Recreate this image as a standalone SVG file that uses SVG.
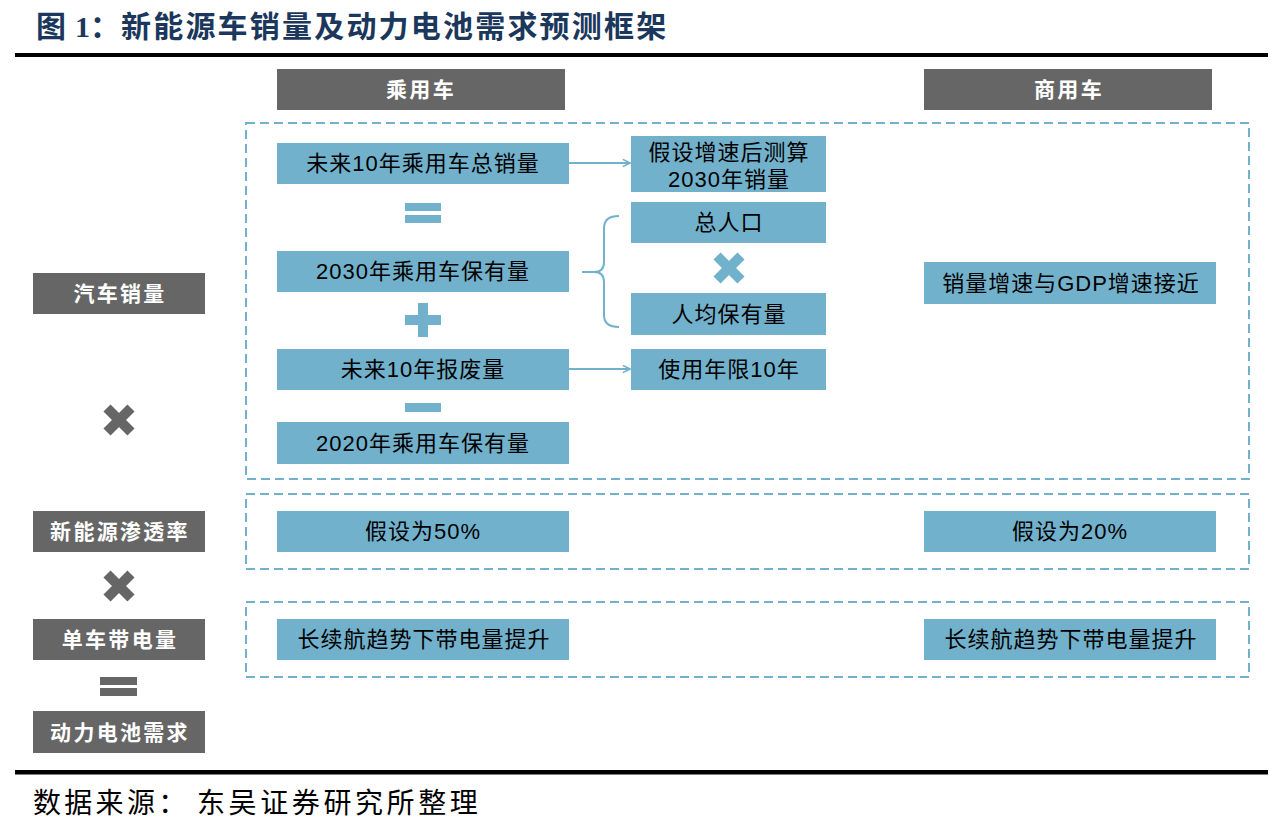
<svg xmlns="http://www.w3.org/2000/svg" width="1280" height="823" viewBox="0 0 1280 823">
  <style>
    .blue { fill: #72B1CB; }
    .gray { fill: #666666; }
    .dash { fill: none; stroke: #72B1CB; stroke-width: 2; stroke-dasharray: 9 5; }
    .bt { font-family: "Liberation Sans", "Noto Sans CJK SC", sans-serif; font-size: 22px; fill: #000000; text-anchor: middle; letter-spacing: 1px; }
    .gt { font-family: "Noto Sans CJK SC", sans-serif; font-size: 21px; font-weight: bold; fill: #FFFFFF; text-anchor: middle; letter-spacing: 2.3px; }
    .conn { fill: none; stroke: #72B1CB; stroke-width: 2; }
    .xg { stroke: #666666; stroke-width: 10; fill: none; }
    .xb { stroke: #72B1CB; stroke-width: 10; fill: none; }
  </style>
  <defs>
    <marker id="arr" viewBox="0 0 10 10" refX="9" refY="5" markerWidth="9" markerHeight="9" markerUnits="userSpaceOnUse" orient="auto">
      <path d="M1,1 L9,5 L1,9" fill="none" stroke="#72B1CB" stroke-width="1.8"/>
    </marker>
  </defs>
  <rect width="1280" height="823" fill="#FFFFFF"/>

  <!-- Title -->
  <g id="title" font-family="Noto Sans CJK SC, sans-serif" font-weight="bold" font-size="30" fill="#1B375C">
    <text x="36" y="37">图</text>
    <text x="75" y="37" font-family="Liberation Serif, serif">1</text>
    <text x="90" y="37">：</text>
    <text x="121" y="37" letter-spacing="2.2">新能源车销量及动力电池需求预测框架</text>
  </g>
  <rect x="15" y="53" width="1253" height="4" fill="#000000"/>
  <rect x="15" y="770" width="1253" height="4.5" fill="#000000"/>

  <!-- dashed containers -->
  <g id="containers">
    <rect class="dash" x="246" y="123" width="1003" height="356"/>
    <rect class="dash" x="246" y="494" width="1003" height="75"/>
    <rect class="dash" x="246" y="602" width="1003" height="75"/>
  </g>

  <!-- headers -->
  <g id="hdr-passenger"><rect class="gray" x="277" y="69" width="288" height="41"/><text class="gt" x="421" y="97">乘用车</text></g>
  <g id="hdr-commercial"><rect class="gray" x="924" y="69" width="288" height="41"/><text class="gt" x="1069" y="97">商用车</text></g>

  <!-- left labels -->
  <g id="lbl-sales"><rect class="gray" x="33" y="273" width="172" height="41"/><text class="gt" x="120" y="301">汽车销量</text></g>
  <g id="lbl-penetration"><rect class="gray" x="33" y="511" width="172" height="41"/><text class="gt" x="120" y="539">新能源渗透率</text></g>
  <g id="lbl-capacity"><rect class="gray" x="33" y="619" width="172" height="41"/><text class="gt" x="120" y="647">单车带电量</text></g>
  <g id="lbl-demand"><rect class="gray" x="33" y="711" width="172" height="42"/><text class="gt" x="120" y="740">动力电池需求</text></g>

  <!-- operators -->
  <g id="operators">
    <path class="xg" d="M107,408 L131,432 M131,408 L107,432"/>
    <path class="xg" d="M107,574 L131,598 M131,574 L107,598"/>
    <rect class="gray" x="100" y="677" width="37" height="8"/>
    <rect class="gray" x="100" y="688" width="37" height="8"/>
    <rect class="blue" x="405" y="203" width="36" height="8"/>
    <rect class="blue" x="405" y="215" width="36" height="8"/>
    <rect class="blue" x="405" y="315" width="36" height="10"/>
    <rect class="blue" x="418" y="303" width="10" height="34"/>
    <rect class="blue" x="405" y="403" width="36" height="9"/>
    <path class="xb" d="M717,256 L741,280 M741,256 L717,280"/>
  </g>

  <!-- passenger car nodes -->
  <g id="n-total-sales"><rect class="blue" x="277" y="143" width="292" height="41"/><text class="bt" x="423" y="171">未来10年乘用车总销量</text></g>
  <g id="n-2030-sales"><rect class="blue" x="631" y="136" width="195" height="56"/><text class="bt" x="729" y="160">假设增速后测算</text><text class="bt" x="729" y="187">2030年销量</text></g>
  <g id="n-2030-stock"><rect class="blue" x="277" y="251" width="292" height="41"/><text class="bt" x="423" y="279">2030年乘用车保有量</text></g>
  <g id="n-population"><rect class="blue" x="631" y="202" width="195" height="41"/><text class="bt" x="729" y="230" letter-spacing="4">总人口</text></g>
  <g id="n-per-capita"><rect class="blue" x="631" y="293" width="195" height="42"/><text class="bt" x="729" y="322" letter-spacing="2">人均保有量</text></g>
  <g id="n-scrap"><rect class="blue" x="277" y="349" width="292" height="41"/><text class="bt" x="423" y="377">未来10年报废量</text></g>
  <g id="n-lifetime"><rect class="blue" x="631" y="349" width="195" height="41"/><text class="bt" x="729" y="377">使用年限10年</text></g>
  <g id="n-2020-stock"><rect class="blue" x="277" y="422" width="292" height="42"/><text class="bt" x="423" y="451">2020年乘用车保有量</text></g>

  <!-- commercial -->
  <g id="n-cv-sales"><rect class="blue" x="924" y="262" width="292" height="42"/><text class="bt" x="1071" y="291" font-size="23" letter-spacing="2.5">销量增速与GDP增速接近</text></g>

  <!-- penetration row -->
  <g id="n-pv-pen"><rect class="blue" x="277" y="511" width="292" height="41"/><text class="bt" x="423" y="539">假设为50%</text></g>
  <g id="n-cv-pen"><rect class="blue" x="924" y="511" width="292" height="41"/><text class="bt" x="1070" y="539">假设为20%</text></g>

  <!-- capacity row -->
  <g id="n-pv-cap"><rect class="blue" x="277" y="619" width="292" height="41"/><text class="bt" x="424" y="647">长续航趋势下带电量提升</text></g>
  <g id="n-cv-cap"><rect class="blue" x="924" y="619" width="292" height="41"/><text class="bt" x="1071" y="647">长续航趋势下带电量提升</text></g>

  <!-- connectors -->
  <g id="connectors">
    <line class="conn" x1="569" y1="163" x2="630" y2="163" marker-end="url(#arr)"/>
    <line class="conn" x1="569" y1="369" x2="630" y2="369" marker-end="url(#arr)"/>
    <path class="conn" d="M619,216 Q604,216 604,228 L604,262 Q604,272 594,272 L582,272 M594,272 Q604,272 604,282 L604,315 Q604,327 619,327"/>
  </g>

  <!-- footer -->
  <g id="footer" font-family="Noto Sans CJK SC, sans-serif" font-size="28" fill="#000000">
    <text x="33" y="813" letter-spacing="3.3">数据来源：</text>
    <text x="197" y="813" letter-spacing="3.6">东吴证券研究所整理</text>
  </g>
</svg>
